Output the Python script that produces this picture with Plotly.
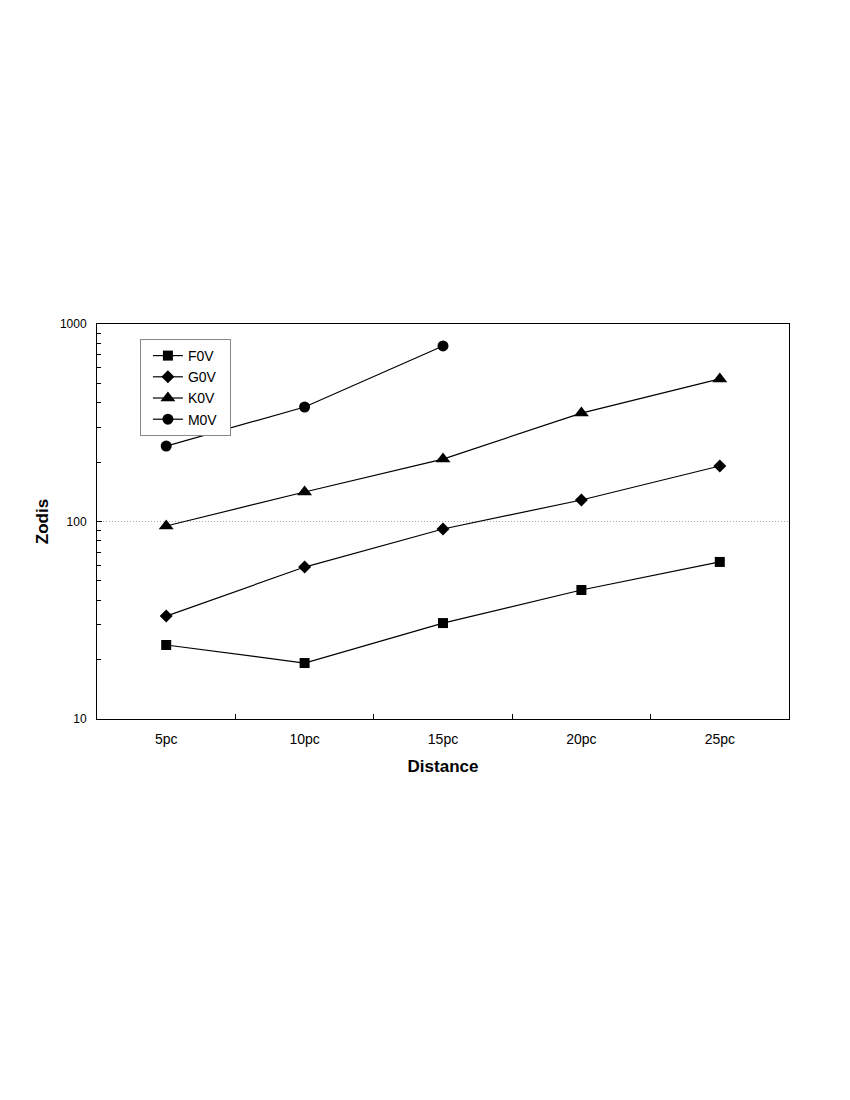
import plotly.graph_objects as go

distances = ["5pc", "10pc", "15pc", "20pc", "25pc"]
f0v = [23.7, 19.2, 30.6, 45.0, 62.4]
g0v = [33.2, 58.8, 91.6, 128.5, 191.0]
k0v = [94.9, 141.0, 207.0, 354.0, 527.0]
m0v = [241.0, 380.0, 774.0]

series = [
    ("F0V", f0v, "square", 10),
    ("G0V", g0v, "diamond", 10),
    ("K0V", k0v, "triangle-up", 13),
    ("M0V", m0v, "circle", 11),
]

fig = go.Figure()
for name, vals, sym, sz in series:
    fig.add_trace(go.Scatter(
        x=distances[:len(vals)],
        y=vals,
        mode="lines+markers",
        name=name + "\u00a0\u00a0",
        line=dict(color="black", width=1.2),
        marker=dict(symbol=sym, size=sz, color="black"),
    ))

fig.update_layout(
    width=850,
    height=1100,
    paper_bgcolor="white",
    plot_bgcolor="white",
    # html body adds 8px offset
    margin=dict(l=89, r=69, t=316, b=389),
    font=dict(family="Liberation Sans, Arial, sans-serif", color="black", size=12),
    showlegend=True,
    legend=dict(
        x=0.062, y=0.962, xanchor="left", yanchor="top",
        bgcolor="white", bordercolor="#888888", borderwidth=1,
        font=dict(size=14), tracegroupgap=0,
        itemwidth=30, indentation=7,
    ),
)

fig.update_xaxes(
    type="category",
    range=[-0.5, 4.5],
    showline=True, linecolor="black", linewidth=1, mirror=True,
    ticks="inside", ticklen=5, tickcolor="black", tickson="boundaries",
    ticklabelstandoff=7,
    showgrid=False,
    tickfont=dict(size=14),
    title=dict(text="<b>Distance</b>", font=dict(size=17), standoff=14),
)

fig.update_yaxes(
    type="log",
    range=[1, 3],
    dtick=1,
    tick0=0,
    showline=True, linecolor="black", linewidth=1, mirror=True,
    ticks="inside", ticklen=5, tickcolor="black",
    ticklabelstandoff=7,
    minor=dict(dtick="D1", ticks="inside", ticklen=4, tickcolor="black", showgrid=False),
    showgrid=True, gridcolor="#aaaaaa", griddash="1px,2px", gridwidth=1,
    tickfont=dict(size=12),
    title=dict(text="<b>Zodis</b>", font=dict(size=17), standoff=6),
)

fig.write_html("out.html")
